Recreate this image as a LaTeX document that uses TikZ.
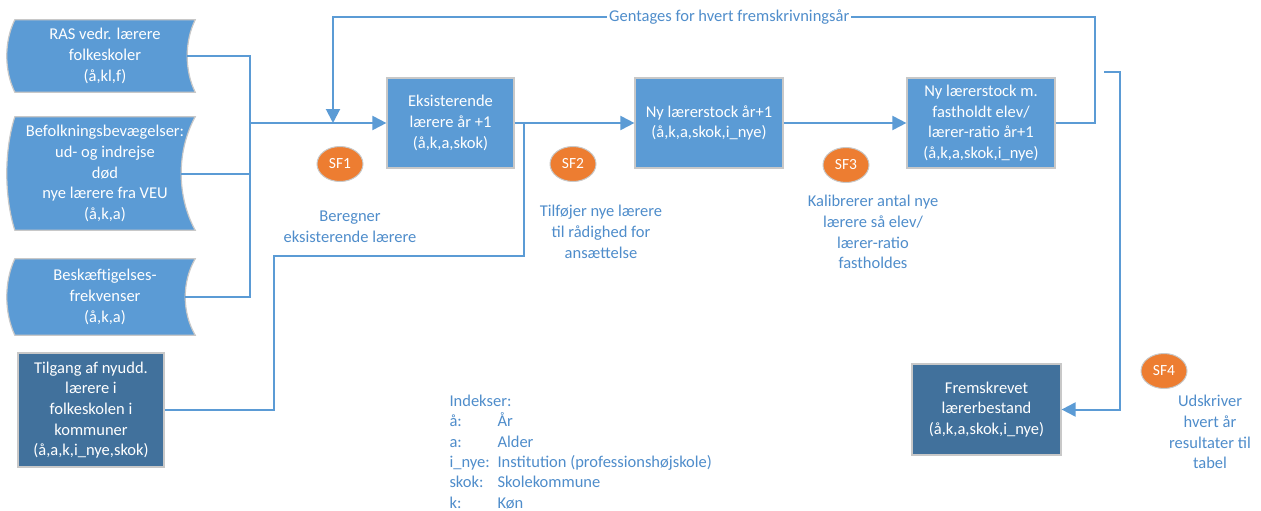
\documentclass[tikz,border=0pt]{standalone}
\usepackage{fontspec}
\setmainfont{Carlito}
\usetikzlibrary{arrows.meta,shapes.geometric,calc,backgrounds}

\definecolor{accent}{HTML}{5B9BD5}
\definecolor{accentdark}{HTML}{41719C}
\definecolor{labelblue}{HTML}{4F8DCB}
\definecolor{sforange}{HTML}{ED7D31}
\definecolor{edgegrey}{HTML}{C8C8C8}

\tikzset{
  box/.style={rectangle, fill=accent, draw=edgegrey, line width=1.2pt, text=white, align=center, inner sep=0pt},
  darkbox/.style={box, fill=accentdark},
  tape/.style={rectangle, inner sep=0pt, text=white, align=center},
  sf/.style={ellipse, fill=sforange, draw=edgegrey, line width=1pt, text=white, minimum width=46pt, minimum height=35pt, inner sep=0pt, font=\fontsize{15.5}{18}\selectfont},
  note/.style={text=labelblue, align=center},
  line/.style={draw=accent, line width=2pt},
}

% stored data outline behind a tape node: node name, left bulge, right bulge
\newcommand{\storeddata}[3]{%
  \begin{pgfonlayer}{background}
  \path[fill=accent, draw=edgegrey, line width=1.2pt] (#1.north west)
    .. controls ($(#1.north west)!0.3!(#1.south west)+(-#2,0)$) and ($(#1.north west)!0.7!(#1.south west)+(-#2,0)$) .. (#1.south west)
    -- (#1.south east)
    .. controls ($(#1.north east)!0.7!(#1.south east)+(-#3,0)$) and ($(#1.north east)!0.3!(#1.south east)+(-#3,0)$) .. (#1.north east)
    -- cycle;
  \end{pgfonlayer}}

\begin{document}
\begin{tikzpicture}[x=1pt,y=-1pt,>={Triangle[length=14pt,width=14pt]},font=\fontsize{16.5}{20.7}\selectfont]
  \useasboundingbox (0,0) rectangle (1261,511);
  \begin{pgfonlayer}{background}
    \fill[white] (0,0) rectangle (1261,511);
  \end{pgfonlayer}

  % input data
  \node[tape, minimum width=180, minimum height=72]  (ras)    at (105,56)    {RAS vedr. lærere\\folkeskoler\\(å,kl,f)};
  \node[tape, minimum width=180, minimum height=113] (befolk) at (105,173.5) {Befolkningsbevægelser:\\ud- og indrejse\\død\\nye lærere fra VEU\\(å,k,a)};
  \node[tape, minimum width=180, minimum height=76]  (besk)   at (105,297)   {Beskæftigelses-\\frekvenser\\(å,k,a)};
  \storeddata{ras}{10.7}{10.7}
  \storeddata{befolk}{10.7}{18.7}
  \storeddata{besk}{10.7}{13.3}
  \node[darkbox, minimum width=146, minimum height=114] (tilgang) at (91,410) {Tilgang af nyudd.\\lærere i\\folkeskolen i\\kommuner\\(å,a,k,i\_nye,skok)};

  % steps
  \node[box, minimum width=127, minimum height=90] (eks)    at (450.5,123) {Eksisterende\\lærere år +1\\(å,k,a,skok)};
  \node[box, minimum width=148, minimum height=90] (stock1) at (709,123)   {Ny lærerstock år+1\\(å,k,a,skok,i\_nye)};
  \node[box, minimum width=148, minimum height=90] (stock3) at (981,123)   {Ny lærerstock m.\\fastholdt elev/\\lærer-ratio år+1\\(å,k,a,skok,i\_nye)};
  \node[darkbox, minimum width=149, minimum height=91] (frem) at (986.5,409.5) {Fremskrevet\\lærerbestand\\(å,k,a,skok,i\_nye)};

  \node[sf] (sf1) at (340,164)  {SF1};
  \node[sf] (sf2) at (573,164)  {SF2};
  \node[sf] (sf3) at (846,165)  {SF3};
  \node[sf] (sf4) at (1164,371) {SF4};

  \node[note] (txt1) at (350,227)  {Beregner\\eksisterende lærere};
  \node[note] (txt2) at (601,232)  {Tilføjer nye lærere\\til rådighed for\\ansættelse};
  \node[note] (txt3) at (873,232)  {Kalibrerer antal nye\\lærere så elev/\\lærer-ratio\\fastholdes};
  \node[note] (txt4) at (1210,432) {Udskriver\\hvert år\\resultater til\\tabel};

  \node[note, align=left, anchor=west, font=\fontsize{16.5}{20.3}\selectfont] (indeks) at (446,452)
    {Indekser:\\\makebox[48pt][l]{å:}År\\\makebox[48pt][l]{a:}Alder\\\makebox[48pt][l]{i\_nye:}Institution (professionshøjskole)\\\makebox[48pt][l]{skok:}Skolekommune\\\makebox[48pt][l]{k:}Køn};

  \coordinate (bus)     at (250,123);
  \coordinate (join)    at (524,123);
  \coordinate (loopTR)  at (1095,17);
  \coordinate (loopTL)  at (333,17);
  \coordinate (loopEnd) at (333,123);
  \coordinate (outStart) at (1104,72);

  \draw[line] ([xshift=-8]ras.east) -| (bus);
  \draw[line] ([xshift=-14]befolk.east) -| (bus);
  \draw[line] ([xshift=-10]besk.east) -| (bus);
  \draw[line,->] (bus) -- (eks.west);
  \draw[line,->] (eks.east) -- (stock1.west);
  \draw[line] (tilgang.east) -| ++(109,-154) -| (join);
  \draw[line,->] (stock1.east) -- (stock3.west);
  \draw[line,->] (stock3.east) -| (loopTR) -- node[pos=0.48, fill=white, text=labelblue, inner sep=2pt] {Gentages for hvert fremskrivningsår} (loopTL) -- (loopEnd);
  \draw[line,->] (outStart) -- ++(16,0) |- (frem.east);
\end{tikzpicture}
\end{document}
